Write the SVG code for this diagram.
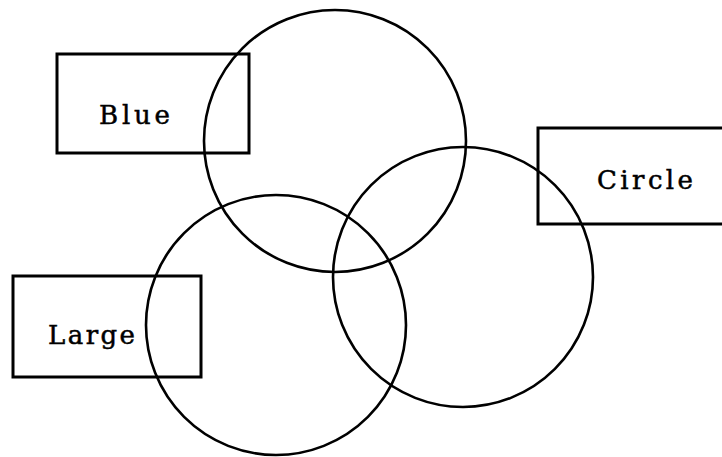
<svg xmlns="http://www.w3.org/2000/svg" width="722" height="457" viewBox="0 0 722 457">
<style>
.box{fill:none;stroke:#000;stroke-width:3}
.ring{fill:none;stroke:#000;stroke-width:2.6}
.lbl{font-family:"DejaVu Serif","Liberation Serif",serif;font-size:26px;fill:#000;stroke:#000;stroke-width:0.5}
</style>
<rect width="722" height="457" fill="#fff"/>
<g id="node-blue">
<rect class="box" x="57" y="54" width="192" height="99"/>
<text class="lbl" x="99" y="124" textLength="71" lengthAdjust="spacing">Blue</text>
</g>
<g id="node-circle">
<rect class="box" x="538" y="128" width="200" height="96"/>
<text class="lbl" x="597" y="189" textLength="96" lengthAdjust="spacing">Circle</text>
</g>
<g id="node-large">
<rect class="box" x="13" y="276" width="188" height="101"/>
<text class="lbl" x="48" y="344" textLength="87" lengthAdjust="spacing">Large</text>
</g>
<g id="connectors">
<circle class="ring" cx="335" cy="141" r="131"/>
<circle class="ring" cx="463" cy="277" r="130"/>
<circle class="ring" cx="276" cy="325" r="130"/>
</g>
</svg>
